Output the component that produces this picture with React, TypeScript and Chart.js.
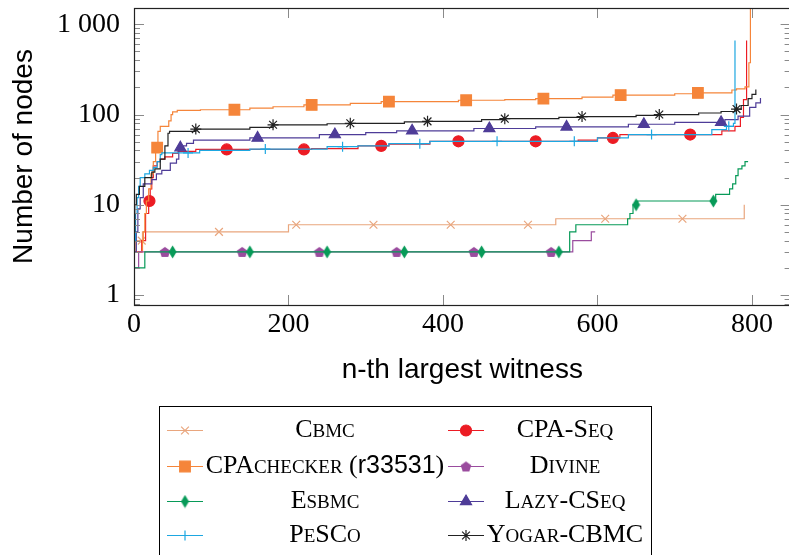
import React, { useEffect, useRef } from 'react';
import { Chart, registerables } from 'chart.js';
import { drawPoint } from 'chart.js/helpers';

Chart.register(...registerables);

// ---------- data ----------
const X_TICKS = [0, 200, 400, 600, 800];
const Y_TICKS = [1, 10, 100, 1000];
const Y_TICK_LABELS = ['1', '10', '100', '1 000'];

const SERIES_NAMES = ['Cbmc', 'CPA-Seq', 'CPAchecker (r33531)', 'Divine', 'Esbmc', 'Lazy-CSeq', 'PeSCo', 'Yogar-CBMC'];

const cbmcX = [0, 2, 11, 200, 546, 790];
const cbmcY = [3, 4, 5, 6, 7, 10];
const cbmcMarks = [10, 110, 210, 310, 410, 510, 610, 710];

const cpaSeqX = [0, 10, 15, 19, 21, 23, 25, 30, 34, 40, 50, 57, 80, 230, 290, 330, 383, 575, 600, 629, 761, 778, 785, 789, 793];
const cpaSeqY = [3, 4, 8, 11, 15, 20, 27, 30, 32, 34, 37, 39, 41, 42, 45, 47, 50.5, 52, 55, 60, 66, 74, 93, 146, 660];
const cpaSeqMarks = [20, 120, 220, 320, 420, 520, 620, 720];

const cpacheckerX = [0, 11, 12, 14, 16, 19, 22, 25, 28, 31, 34, 45, 48, 50, 56, 86, 150, 180, 220, 280, 320, 420, 480, 520, 580, 620, 700, 730, 774, 780, 791, 796, 798];
const cpacheckerY = [3, 4, 5, 8, 11, 15, 22, 30, 43, 65, 74, 85, 100, 107, 111, 113, 118, 122, 128, 133, 139, 144, 146, 150, 156, 164, 170, 174, 187, 193, 203, 375, 3000];
const cpacheckerMarks = [30, 130, 230, 330, 430, 530, 630, 730];

const divineX = [0, 6, 568, 592, 597];
const divineY = [2, 3, 4, 5, 5];
const divineMarks = [40, 140, 240, 340, 440, 540];

const esbmcX = [0, 14, 564, 572, 639, 642, 646, 652, 753, 771, 775, 779, 782, 787, 791, 795];
const esbmcY = [2, 3, 5, 6, 7, 8, 10, 11, 13, 15, 17, 21, 25, 27, 30, 30];
const esbmcMarks = [50, 150, 250, 350, 450, 550, 650, 750];

const lazyX = [0, 3, 5, 8, 12, 23, 29, 36, 47, 55, 58, 64, 68, 77, 150, 240, 300, 340, 440, 520, 640, 700, 765, 782, 797, 805, 811];
const lazyY = [3, 5, 9, 12, 17, 19, 22, 24, 29, 32, 43, 45, 48, 52, 55, 60, 63, 66, 70, 73, 78, 82, 88, 96, 120, 135, 153];
const lazyMarks = [60, 160, 260, 360, 460, 560, 660, 760];

const pescoX = [0, 2, 4, 6, 8, 14, 20, 25, 30, 34, 36, 85, 150, 250, 290, 330, 383, 600, 640, 748, 767, 776, 778];
const pescoY = [4, 8, 12, 16, 20, 22, 24, 26, 30, 36, 37.5, 40, 41.4, 44, 45, 47.5, 50.5, 55, 60, 68, 74, 80, 660];
const pescoMarks = [70, 170, 270, 370, 470, 570, 670, 770];

const yogarX = [0, 1, 3, 7, 14, 23, 27, 34, 40, 44, 46, 80, 150, 180, 250, 280, 350, 380, 450, 480, 550, 580, 650, 680, 731, 760, 778, 786, 795, 800, 805];
const yogarY = [5, 10, 13, 16, 20, 23, 25, 32, 45, 62, 65, 69, 72, 77, 79, 80, 83, 84, 88, 90, 93, 95, 98, 100, 104, 108, 115, 126, 150, 167, 190];
const yogarMarks = [80, 180, 280, 380, 480, 580, 680, 780];

// legend label pieces: L = large serif, s = small caps (small serif capitals), S = sans
type Seg = [string, 'L' | 's' | 'S'];
const LEGEND_LABELS: Seg[][] = [
  [['C', 'L'], ['BMC', 's']],
  [['CPA-S', 'L'], ['EQ', 's']],
  [['CPA', 'L'], ['CHECKER', 's'], [' (', 'L'], ['r33531', 'S'], [')', 'L']],
  [['D', 'L'], ['IVINE', 's']],
  [['E', 'L'], ['SBMC', 's']],
  [['L', 'L'], ['AZY', 's'], ['-CS', 'L'], ['EQ', 's']],
  [['P', 'L'], ['E', 's'], ['SC', 'L'], ['O', 's']],
  [['Y', 'L'], ['OGAR', 's'], ['-CBMC', 'L']],
];

const COLORS = ['#E9A67E', '#EC1C24', '#F5853A', '#9A4C9E', '#079A58', '#4E3C98', '#1DA7E1', '#222222'];

// ---------- helpers ----------
function buildPoints(xs: number[], ys: number[], marks: number[]) {
  const pts: { x: number; y: number; m: boolean }[] = xs.map((x, i) => ({ x, y: ys[i], m: false }));
  for (const mx of marks) {
    let y = ys[0];
    for (let i = 0; i < xs.length; i++) if (xs[i] <= mx) y = ys[i];
    pts.push({ x: mx, y, m: true });
  }
  pts.sort((a, b) => a.x - b.x || (a.m ? 1 : -1));
  return pts;
}

function makePentagon(color: string) {
  const c = document.createElement('canvas');
  c.width = 12; c.height = 12;
  const g = c.getContext('2d')!;
  g.fillStyle = color;
  g.beginPath();
  for (let k = 0; k < 5; k++) {
    const a = -Math.PI / 2 + (k * 2 * Math.PI) / 5;
    const px = 6 + 5.6 * Math.cos(a);
    const py = 6.5 + 5.6 * Math.sin(a);
    if (k === 0) g.moveTo(px, py); else g.lineTo(px, py);
  }
  g.closePath();
  g.fill();
  return c;
}

function makeDiamond(color: string) {
  const c = document.createElement('canvas');
  c.width = 9; c.height = 14;
  const g = c.getContext('2d')!;
  g.fillStyle = color;
  g.beginPath();
  g.moveTo(4.5, 0.5); g.lineTo(8.5, 7); g.lineTo(4.5, 13.5); g.lineTo(0.5, 7);
  g.closePath();
  g.fill();
  return c;
}

const LEGEND_ROWS = [430, 466, 501, 535];

export default function App() {
  const ref = useRef<HTMLCanvasElement>(null);

  useEffect(() => {
    const canvas = ref.current!;
    const pent = makePentagon(COLORS[3]);
    const diam = makeDiamond(COLORS[4]);

    const styles: { style: any; r: number }[] = [
      { style: 'crossRot', r: 5.5 },
      { style: 'circle', r: 5.5 },
      { style: 'rect', r: 7.5 },
      { style: pent, r: 5 },
      { style: diam, r: 5 },
      { style: 'triangle', r: 6.4 },
      { style: 'cross', r: 5 },
      { style: 'star', r: 5.5 },
    ];

    const seriesData = [
      buildPoints(cbmcX, cbmcY, cbmcMarks),
      buildPoints(cpaSeqX, cpaSeqY, cpaSeqMarks),
      buildPoints(cpacheckerX, cpacheckerY, cpacheckerMarks),
      buildPoints(divineX, divineY, divineMarks),
      buildPoints(esbmcX, esbmcY, esbmcMarks),
      buildPoints(lazyX, lazyY, lazyMarks),
      buildPoints(pescoX, pescoY, pescoMarks),
      buildPoints(yogarX, yogarY, yogarMarks),
    ];

    const datasets = seriesData.map((data, i) => ({
      label: SERIES_NAMES[i],
      data,
      borderColor: COLORS[i],
      backgroundColor: COLORS[i],
      borderWidth: 1.2,
      stepped: 'before' as const,
      fill: false,
      tension: 0,
      pointStyle: styles[i].style,
      pointRadius: (c: any) => (c.raw && c.raw.m ? styles[i].r : 0),
      pointHoverRadius: 0,
      pointBackgroundColor: COLORS[i],
      pointBorderColor: COLORS[i],
      pointBorderWidth: 1.2,
      order: 7 - i,
    }));

    const framePlugin = {
      id: 'frame',
      afterDraw(chart: any) {
        const { ctx, chartArea: a, scales } = chart;
        const xs = scales.x;
        const ys = scales.y;
        ctx.save();
        // tick marks
        ctx.strokeStyle = '#8a8a8a';
        ctx.lineWidth = 1;
        ctx.beginPath();
        for (const v of X_TICKS) {
          const px = Math.round(xs.getPixelForValue(v)) + 0.5;
          ctx.moveTo(px, a.bottom); ctx.lineTo(px, a.bottom - 10);
          ctx.moveTo(px, a.top); ctx.lineTo(px, a.top + 10);
        }
        const decades = [0.1, 1, 10, 100, 1000];
        for (const d of decades) {
          for (let k = 1; k <= 9; k++) {
            const v = d * k;
            if (v < ys.min || v > ys.max) continue;
            const major = k === 1;
            const len = major ? 10 : 6;
            const py = Math.round(ys.getPixelForValue(v)) + 0.5;
            ctx.moveTo(a.left, py); ctx.lineTo(a.left + len, py);
            ctx.moveTo(a.right, py); ctx.lineTo(a.right - len, py);
          }
        }
        ctx.stroke();
        // frame
        ctx.strokeStyle = '#222';
        ctx.lineWidth = 1.2;
        ctx.strokeRect(Math.round(a.left) + 0.5, Math.round(a.top) + 0.5, Math.round(a.right - a.left), Math.round(a.bottom - a.top));

        // legend
        ctx.lineWidth = 1;
        ctx.strokeStyle = '#000';
        ctx.strokeRect(159.5, 406.5, 492, 160);
        const fonts: Record<string, string> = {
          L: '26px "Liberation Serif"',
          s: '19px "Liberation Serif"',
          S: '25px "Liberation Sans"',
        };
        LEGEND_LABELS.forEach((segs, i) => {
          const col = i % 2;
          const row = Math.floor(i / 2);
          const y = LEGEND_ROWS[row];
          const x1 = col === 0 ? 167 : 448;
          const x2 = x1 + 36;
          const cx = col === 0 ? 325 : 565;
          ctx.strokeStyle = COLORS[i];
          ctx.lineWidth = 1.2;
          ctx.beginPath();
          ctx.moveTo(x1, y + 0.5); ctx.lineTo(x2, y + 0.5);
          ctx.stroke();
          ctx.fillStyle = COLORS[i];
          ctx.strokeStyle = COLORS[i];
          drawPoint(ctx, { pointStyle: styles[i].style, radius: styles[i].r, rotation: 0, borderWidth: 1.2 } as any, (x1 + x2) / 2, y + 0.5);
          let total = 0;
          for (const [t, k] of segs) { ctx.font = fonts[k]; total += ctx.measureText(t).width; }
          let tx = cx - total / 2;
          ctx.fillStyle = '#000';
          ctx.textAlign = 'left';
          ctx.textBaseline = 'alphabetic';
          for (const [t, k] of segs) {
            ctx.font = fonts[k];
            ctx.fillText(t, tx, y + 7);
            tx += ctx.measureText(t).width;
          }
        });
        ctx.restore();
      },
    };

    const chart = new Chart(canvas, {
      type: 'line',
      data: { datasets: datasets as any },
      options: {
        responsive: false,
        animation: false,
        devicePixelRatio: 1,
        events: [],
        layout: { padding: { top: 8, right: 9.4, bottom: 168, left: 0 } },
        plugins: { legend: { display: false }, tooltip: { enabled: false }, title: { display: false } },
        scales: {
          x: {
            type: 'linear',
            min: 0,
            max: 850,
            grid: { display: false, drawTicks: false },
            border: { display: false },
            ticks: { font: { family: 'Liberation Serif', size: 28 }, color: '#000', padding: 3, maxRotation: 0, autoSkip: false },
            title: { display: true, text: 'n-th largest witness', font: { family: 'Liberation Sans', size: 28 }, color: '#000', padding: { top: 0, bottom: 0 } },
            afterBuildTicks: (s: any) => { s.ticks = X_TICKS.map((v) => ({ value: v })); },
            afterFit: (s: any) => { s.height = 82; s.paddingLeft = 0; s.paddingRight = 0; },
          },
          y: {
            type: 'logarithmic',
            min: 0.774,
            max: 1517,
            grid: { display: false, drawTicks: false },
            border: { display: false },
            ticks: {
              font: { family: 'Liberation Serif', size: 28 },
              color: '#000',
              padding: 14,
              autoSkip: false,
              callback: (v: any) => {
                const idx = Y_TICKS.indexOf(Number(v));
                return idx >= 0 ? Y_TICK_LABELS[idx] : '';
              },
            },
            title: { display: true, text: 'Number of nodes', font: { family: 'Liberation Sans', size: 28 }, color: '#000', padding: { top: 7, bottom: 0 } },
            afterBuildTicks: (s: any) => { s.ticks = Y_TICKS.map((v) => ({ value: v })); },
            afterFit: (s: any) => { s.width = 134; s.paddingTop = 0; s.paddingBottom = 0; },
          },
        },
      } as any,
      plugins: [framePlugin],
    });
    return () => chart.destroy();
  }, []);

  return (
    <div style={{ position: 'fixed', left: 0, top: 0, width: 789, height: 555, overflow: 'hidden', background: '#fff' }}>
      <canvas ref={ref} width={800} height={555} style={{ display: 'block', width: 800, height: 555 }} />
    </div>
  );
}
